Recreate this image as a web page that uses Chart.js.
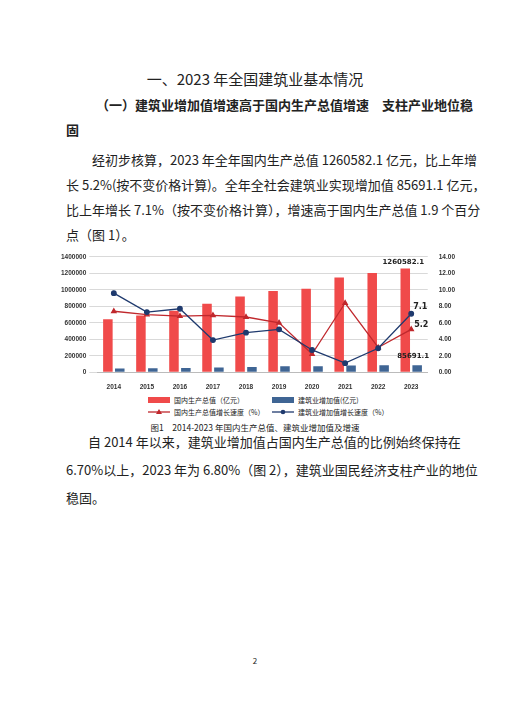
<!DOCTYPE html>
<html><head><meta charset="utf-8">
<script src="https://cdn.jsdelivr.net/npm/chart.js@4"></script>
<style>
body{margin:0;width:510px;height:721px;background:#fff;font-family:"Noto Sans CJK SC",sans-serif;color:#222;position:relative;overflow:hidden}
.t{position:absolute;white-space:nowrap}
.j{position:absolute;text-align:justify;text-align-last:justify;white-space:nowrap;font-size:13px}
#wrap{position:absolute;left:58px;top:250px;width:402px;height:144px}
.lg{position:absolute;font-size:7px;color:#222;display:flex;align-items:center;gap:4px}
</style></head><body>
<div class="t" style="left:0;width:510px;text-align:center;top:68px;font-size:15px">一、2023 年全国建筑业基本情况</div>
<div class="j" style="left:96px;width:352px;top:95px;font-weight:bold">（一）建筑业增加值增速高于国内生产总值增速　支柱产业地位稳</div>
<div class="t" style="left:66px;top:120px;font-size:13px;font-weight:bold">固</div>
<div class="j" style="left:92px;width:350px;top:150px">经初步核算，2023 年全年国内生产总值 1260582.1 亿元，比上年增</div>
<div class="j" style="left:66px;width:376px;top:175px">长 5.2%(按不变价格计算)。全年全社会建筑业实现增加值 85691.1 亿元，</div>
<div class="j" style="left:66px;width:376px;top:200px">比上年增长 7.1%（按不变价格计算），增速高于国内生产总值 1.9 个百分</div>
<div class="t" style="left:66px;top:225px;font-size:13px">点（图 1）。</div>
<div id="wrap"><canvas id="c"></canvas></div>
<div class="lg" style="left:148px;top:395px"><span style="width:22px;height:6px;background:#F04A4A;display:inline-block"></span>国内生产总值（亿元）</div>
<div class="lg" style="left:272px;top:395px"><span style="width:22px;height:6px;background:#3F6594;display:inline-block"></span>建筑业增加值(亿元)</div>
<div class="lg" style="left:148px;top:407px"><svg width="22" height="6"><line x1="0" y1="3" x2="22" y2="3" stroke="#C0282D" stroke-width="1.3"/><polygon points="11,0 14,5 8,5" fill="#C0282D"/></svg>国内生产总值增长速度（%）</div>
<div class="lg" style="left:272px;top:407px"><svg width="22" height="6"><line x1="0" y1="3" x2="22" y2="3" stroke="#1F3A6E" stroke-width="1.3"/><circle cx="11" cy="3" r="2.3" fill="#1F3A6E"/></svg>建筑业增加值增长速度（%）</div>
<div class="t" style="left:0;width:510px;text-align:center;top:421px;font-size:8.5px">图1　2014-2023 年国内生产总值、建筑业增加值及增速</div>
<div class="j" style="left:88px;width:354px;top:432px">自 2014 年以来，建筑业增加值占国内生产总值的比例始终保持在</div>
<div class="j" style="left:66px;width:376px;top:460px">6.70%以上，2023 年为 6.80%（图 2），建筑业国民经济支柱产业的地位</div>
<div class="t" style="left:66px;top:488px;font-size:13px">稳固。</div>
<div class="t" style="left:0;width:510px;text-align:center;top:655px;font-size:8px">2</div>
<script>
const years=['2014','2015','2016','2017','2018','2019','2020','2021','2022','2023'];
const gdp=[643563,688858,746395,832036,919281,986515,1013567,1149237,1204724,1260582.1];
const cons=[44880,46627,49703,55689,61808,70904,72996,80138,83383,85691.1];
const gdpGrowth=[7.4,7.0,6.8,6.9,6.7,6.0,2.2,8.4,3.0,5.2];
const consGrowth=[9.6,7.3,7.7,3.9,4.8,5.2,2.7,1.1,2.9,7.1];
const leftTicks=[0,200000,400000,600000,800000,1000000,1200000,1400000];
const labelsPlugin={id:'lbl',afterDatasetsDraw(ch){
 const c=ch.ctx;c.save();c.font='bold 7px "DejaVu Sans"';c.fillStyle='#222';c.textAlign='center';
 const m0=ch.getDatasetMeta(0).data[9],m1=ch.getDatasetMeta(1).data[9],m2=ch.getDatasetMeta(2).data[9],m3=ch.getDatasetMeta(3).data[9];
 c.fillText(String(gdp[9]),m0.x-2,m0.y-4);
 c.fillText(String(cons[9]),m1.x-4,m1.y-7);
 c.textAlign='left';c.font='bold 8px "DejaVu Sans"';
 c.fillText(String(consGrowth[9]),m3.x+2,m3.y-5);
 c.fillText(String(gdpGrowth[9]),m2.x+3,m2.y-2);
 c.restore();}};
new Chart(document.getElementById('c'),{
 data:{labels:years,datasets:[
  {type:'bar',data:gdp,backgroundColor:'#F04A4A',yAxisID:'y',categoryPercentage:0.72,barPercentage:0.8,order:3},
  {type:'bar',data:cons,backgroundColor:'#3F6594',yAxisID:'y',categoryPercentage:0.72,barPercentage:0.8,order:3},
  {type:'line',data:gdpGrowth,borderColor:'#C0282D',backgroundColor:'#C0282D',borderWidth:1.3,pointStyle:'triangle',pointRadius:2.5,yAxisID:'y1',order:1},
  {type:'line',data:consGrowth,borderColor:'#1F3A6E',backgroundColor:'#1F3A6E',borderWidth:1.3,pointRadius:2.3,yAxisID:'y1',order:0}
 ]},
 plugins:[labelsPlugin],
 options:{responsive:true,maintainAspectRatio:false,animation:false,
  layout:{padding:{top:6,right:2}},
  plugins:{legend:{display:false},tooltip:{enabled:false}},
  scales:{
   x:{grid:{display:false},border:{color:'#bbb'},ticks:{font:{size:6.5,weight:'bold'},color:'#333'}},
   y:{min:0,max:1400000,afterBuildTicks(s){s.ticks=leftTicks.map(v=>({value:v}))},grid:{color:'#d9d9d9'},border:{display:false},ticks:{font:{size:6.5,weight:'bold'},color:'#333',callback:v=>String(v)}},
   y1:{position:'right',min:0,max:14,grid:{display:false},border:{display:false},ticks:{stepSize:2,font:{size:6.5,weight:'bold'},color:'#333',callback:v=>v.toFixed(2)}}
  }}
});
</script>
</body></html>
